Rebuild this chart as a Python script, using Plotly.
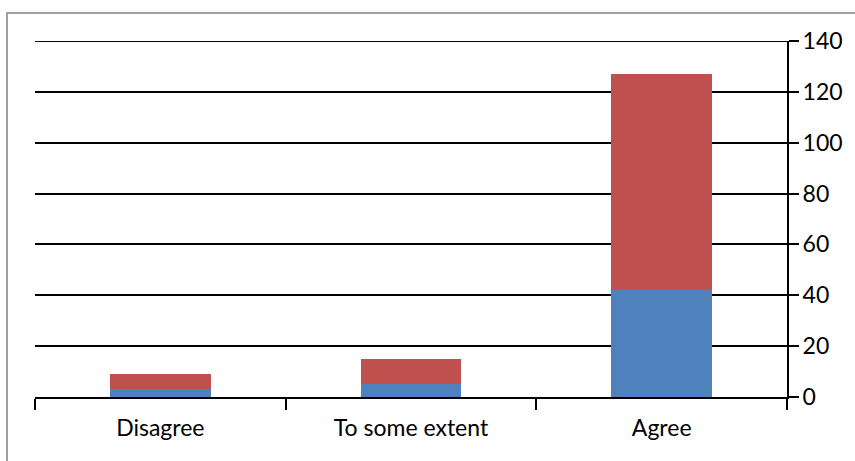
import plotly.graph_objects as go

categories = ["Disagree", "To some extent", "Agree"]
series_blue = [3, 5, 42]
series_red = [6, 10, 85]
y_ticks = [0, 20, 40, 60, 80, 100, 120, 140]

BLUE = "#4F81BD"
RED = "#C0504D"
FONT = "Lato"
FONT_SIZE = 23

fig = go.Figure()
fig.add_trace(go.Bar(x=categories, y=series_blue, marker=dict(color=BLUE, line=dict(width=0)), name="Series 1"))
fig.add_trace(go.Bar(x=categories, y=series_red, marker=dict(color=RED, line=dict(width=0)), name="Series 2"))

fig.update_layout(
    barmode="stack",
    bargap=0.598,
    width=855,
    height=461,
    margin=dict(l=35, r=68, t=41, b=64),
    paper_bgcolor="white",
    plot_bgcolor="white",
    showlegend=False,
    font=dict(family=FONT, size=FONT_SIZE, color="#000000"),
    xaxis=dict(
        type="category",
        showline=True,
        linecolor="black",
        linewidth=2,
        ticks="outside",
        tickson="boundaries",
        ticklen=11,
        tickwidth=2,
        tickcolor="black",
        showgrid=False,
        ticklabelstandoff=9,
        tickfont=dict(family=FONT, size=FONT_SIZE),
    ),
    yaxis=dict(
        side="right",
        range=[0, 140],
        tickvals=y_ticks,
        showline=True,
        linecolor="black",
        linewidth=2,
        ticks="outside",
        ticklen=10,
        tickwidth=2,
        tickcolor="black",
        showgrid=True,
        gridcolor="black",
        gridwidth=2,
        zeroline=False,
        ticklabelstandoff=-1,
        tickfont=dict(family=FONT, size=FONT_SIZE),
    ),
)

# top gridline at the range edge
fig.add_shape(
    type="line", xref="paper", yref="y",
    x0=0, x1=1, y0=y_ticks[-1], y1=y_ticks[-1],
    line=dict(color="black", width=2), layer="below",
)

# outer chart frame, partly running past the page edges
fig.add_shape(
    type="rect", xref="paper", yref="paper",
    x0=-0.0372, x1=1.3, y0=-0.4, y1=1.0787,
    line=dict(color="#A0A0A0", width=2), fillcolor="rgba(0,0,0,0)", layer="below",
)

fig.write_html("out.html")
